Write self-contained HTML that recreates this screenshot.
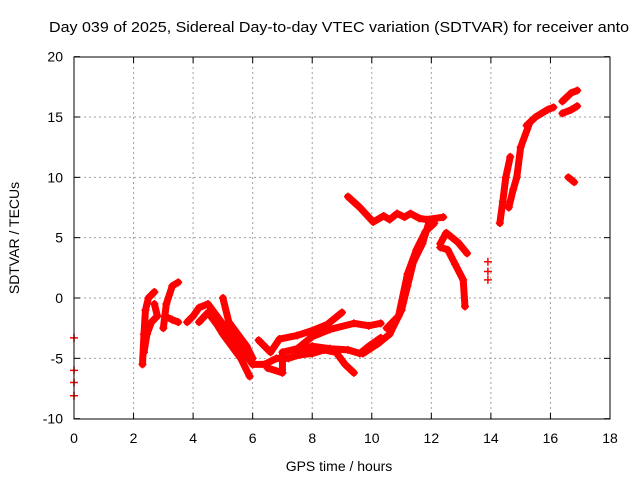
<!DOCTYPE html>
<html><head><meta charset="utf-8"><style>
html,body{margin:0;padding:0;background:#fff;overflow:hidden;}
svg{display:block;font-family:"Liberation Sans",sans-serif;}
</style></head><body>
<svg id="chart" width="640" height="480" viewBox="0 0 640 480">
<rect x="0" y="0" width="640" height="480" fill="#fff"/>
<text x="49" y="32" font-size="15" fill="#000" textLength="580" lengthAdjust="spacingAndGlyphs">Day 039 of 2025, Sidereal Day-to-day VTEC variation (SDTVAR) for receiver anto</text>
<g id="grid"></g>
<g id="marks"></g>
<rect x="74" y="57" width="536" height="362" fill="none" stroke="#000" stroke-width="1"/>
<g id="axes"></g>
<text x="339" y="471" font-size="14" text-anchor="middle">GPS time / hours</text>
<text transform="translate(19,238) rotate(-90)" font-size="14" text-anchor="middle">SDTVAR / TECUs</text>
</svg>
<script>
const xTicks=[0,2,4,6,8,10,12,14,16,18];
const yTicks=[-10,-5,0,5,10,15,20];
const trackA=[[0,-3.3],[0,-6],[0,-7],[0,-8.1]];
const trackB1=[[2.3,-5.5],[2.35,-3],[2.4,-1],[2.5,0],[2.7,0.5]];
const trackB2=[[2.35,-4.5],[2.45,-3],[2.6,-2],[2.8,-1.5],[2.7,-0.5]];
const trackC1=[[3.0,-2.5],[3.1,-0.5],[3.3,1],[3.5,1.3]];
const trackC2=[[3.05,-1.5],[3.3,-1.8],[3.5,-2]];
const trackD1=[[3.8,-2],[4.0,-1.5],[4.2,-0.8],[4.5,-0.5],[4.8,-1.5],[5.1,-2.5],[5.4,-3.5],[5.7,-4.5],[6.0,-5.5]];
const trackD2=[[4.2,-2],[4.5,-1.2],[4.8,-2.2],[5.0,-3],[5.3,-4],[5.6,-5],[5.9,-6.5]];
const trackD3=[[5.0,0],[5.2,-2],[5.5,-3],[5.8,-4],[6.0,-5]];
const trackE1=[[6.0,-5.5],[6.4,-5.5],[6.8,-5],[7.2,-5],[7.6,-4.7],[8,-4.6],[8.4,-4.3],[8.8,-4.5],[9.1,-5.5],[9.4,-6.2]];
const trackE2=[[6.2,-3.5],[6.6,-4.5],[6.9,-3.4],[7.5,-3.1],[8,-2.7],[8.5,-2.2],[9.0,-1.2]];
const trackE3=[[6.5,-5.8],[7.0,-6.2],[7.0,-4.5],[7.5,-4.2],[8,-3.2],[8.6,-2.6],[9.4,-2.1],[9.9,-2.3],[10.3,-2.1]];
const trackE4=[[7.5,-4.5],[8.0,-4],[8.6,-4.2],[9.2,-4.3],[9.6,-4.6],[9.9,-4.0],[10.3,-3.3]];
const trackF=[[9.7,-4.6],[10.2,-3.8],[10.6,-3],[11.0,-1],[11.2,1],[11.4,3],[11.7,4.5],[11.95,6.5]];
const trackF2=[[10.5,-2.5],[10.9,-1.5],[11.2,2],[11.5,4],[11.8,5.5],[12.1,6.2]];
const trackG=[[9.2,8.4],[9.6,7.5],[10.05,6.3],[10.4,6.8],[10.6,6.5],[10.85,7],[11.1,6.7],[11.3,7],[11.6,6.6],[11.85,6.5],[12.4,6.7]];
const trackH1=[[12.3,4.5],[12.5,5.4],[12.9,4.6],[13.2,3.7]];
const trackH2=[[12.3,4.2],[12.55,4],[12.8,2.8],[13.07,1.5],[13.13,-0.7]];
const trackI=[[13.9,3],[13.9,2.2],[13.9,1.5]];
const trackJ1=[[14.3,6.2],[14.4,8],[14.5,10],[14.65,11.7]];
const trackJ2=[[14.6,7.5],[14.75,9],[14.87,10],[15.0,12.5],[15.3,14.5]];
const trackK=[[15.2,14.3],[15.5,15],[15.9,15.6],[16.1,15.8]];
const trackL1=[[16.4,16.3],[16.7,17],[16.9,17.2]];
const trackL2=[[16.4,15.3],[16.7,15.6],[16.9,15.9]];
const trackM=[[16.6,10],[16.8,9.6]];
const tracks=[trackA,trackB1,trackB2,trackC1,trackC2,trackD1,trackD2,trackD3,trackE1,trackE2,trackE3,trackE4,trackF,trackF2,trackG,trackH1,trackH2,trackI,trackJ1,trackJ2,trackK,trackL1,trackL2,trackM];
const NS='http://www.w3.org/2000/svg';
function X(t){return 74+t*(536/18);}
function Y(v){return 298-v*(362/30);}
function mk(tag,attrs,parent){const e=document.createElementNS(NS,tag);for(const k in attrs)e.setAttribute(k,attrs[k]);parent.appendChild(e);return e;}
const grid=document.getElementById('grid'),axes=document.getElementById('axes'),marks=document.getElementById('marks');
xTicks.forEach(t=>{
  if(t>0&&t<18){const l=mk('line',{x1:X(t),x2:X(t),y1:57,y2:419,stroke:'#a0a0a0','stroke-dasharray':'2,3'},grid);
  
  }
  const k=mk('line',{x1:X(t),x2:X(t),y1:419,y2:413,stroke:'#000'},axes);
  
  
  const k2=mk('line',{x1:X(t),x2:X(t),y1:57,y2:63,stroke:'#000'},axes);
  
  
  const tx=mk('text',{x:X(t),y:443,'font-size':14,'text-anchor':'middle'},axes);tx.textContent=t;
  
  
});
yTicks.forEach(v=>{
  if(v>-10&&v<20){const l=mk('line',{x1:74,x2:610,y1:Y(v),y2:Y(v),stroke:'#a0a0a0','stroke-dasharray':'2,3'},grid);
  
  }
  const k=mk('line',{x1:74,x2:80,y1:Y(v),y2:Y(v),stroke:'#000'},axes);
  
  
  const k2=mk('line',{x1:604,x2:610,y1:Y(v),y2:Y(v),stroke:'#000'},axes);
  
  
  const tx=mk('text',{x:63,y:Y(v)+5,'font-size':14,'text-anchor':'end'},axes);tx.textContent=v;
  
  
});
tracks.forEach(tr=>{
  if(tr.length>1&&tr[0][0]!==tr[1][0]){
    const p=mk('polyline',{points:tr.map(d=>X(d[0])+','+Y(d[1])).join(' '),fill:'none',stroke:'#ff0000','stroke-width':7,'stroke-linejoin':'round','stroke-linecap':'round'},marks);
    
    
  }
  tr.forEach(d=>{
    const x=X(d[0]),y=Y(d[1]);
    const m=mk('path',{d:`M${x-4},${y}H${x+4}M${x},${y-4}V${y+4}`,stroke:'#ff0000','stroke-width':1.5},marks);
    
    
  });
});
</script>
</body></html>
